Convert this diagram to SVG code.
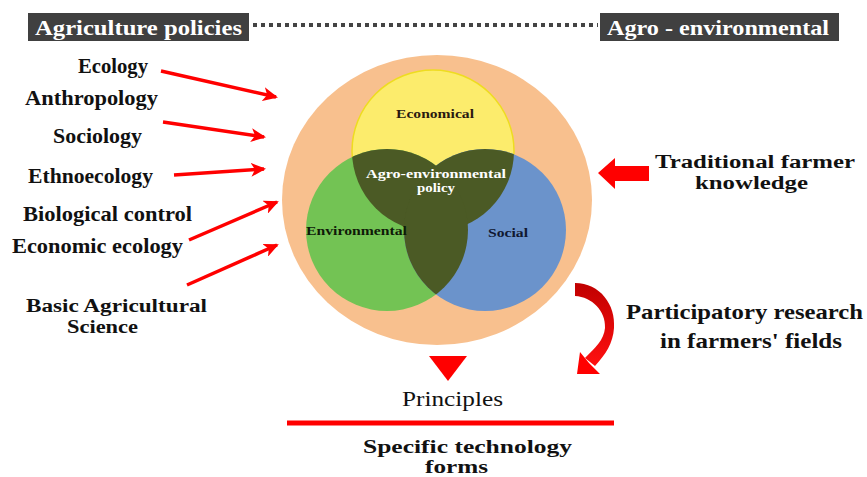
<svg xmlns="http://www.w3.org/2000/svg" width="867" height="477" viewBox="0 0 867 477">
<style>
.lbl{font-family:"Liberation Serif","Times New Roman",serif;font-weight:bold;fill:#111;}
.hdr{font-family:"Liberation Serif","Times New Roman",serif;font-weight:bold;fill:#fff;font-size:21px;}
.vn{font-family:"Liberation Serif","Times New Roman",serif;font-weight:bold;font-size:13px;}
.big{font-size:21px;}
.two{font-size:18px;}
.arr{stroke:#f00;stroke-width:3.5;fill:none;marker-end:url(#ah);}
.dark{fill:#4b5a25;}
</style>
<defs>
<marker id="ah" markerUnits="userSpaceOnUse" markerWidth="16" markerHeight="14" refX="13" refY="7" orient="auto">
<path d="M0,0 L15,7 L0,14 L4,7 Z" fill="#f00"/>
</marker>
<clipPath id="cY"><circle cx="433" cy="151" r="81"/></clipPath>
<clipPath id="cG"><circle cx="387" cy="230" r="81"/></clipPath>
<linearGradient id="cg" x1="0" y1="0" x2="0" y2="1">
<stop offset="0" stop-color="#c00000"/><stop offset="1" stop-color="#ff1010"/>
</linearGradient>
</defs>
<rect width="867" height="477" fill="#fff"/>

<g id="header-left">
<rect x="28" y="13" width="221" height="28" fill="#404040"/>
<text class="hdr" x="35" y="35" textLength="207" lengthAdjust="spacingAndGlyphs">Agriculture policies</text>
</g>
<g id="header-right">
<rect x="600" y="13" width="239" height="28" fill="#404040"/>
<text class="hdr" x="607" y="35" textLength="222" lengthAdjust="spacingAndGlyphs">Agro - environmental</text>
</g>

<g id="venn">
<ellipse cx="437" cy="200" rx="155" ry="145" fill="#f8c08e"/>
<circle cx="433" cy="151" r="81" fill="#fcec6c" stroke="#eedc20" stroke-width="1.5"/>
<circle cx="387" cy="230" r="81" fill="#73c354"/>
<circle cx="485" cy="230" r="81" fill="#6b93cb"/>
<g clip-path="url(#cY)"><circle class="dark" cx="387" cy="230" r="81"/><circle class="dark" cx="485" cy="230" r="81"/></g>
<g clip-path="url(#cG)"><circle class="dark" cx="485" cy="230" r="81"/></g>
<text class="vn" x="396" y="118" fill="#2a1a10" textLength="78" lengthAdjust="spacingAndGlyphs">Economical</text>
<text class="vn" x="366" y="178" fill="#fff" font-size="14" textLength="140" lengthAdjust="spacingAndGlyphs">Agro-environmental</text>
<text class="vn" x="417" y="192" fill="#fff" font-size="14" textLength="38" lengthAdjust="spacingAndGlyphs">policy</text>
<text class="vn" x="306" y="235" fill="#0f1a08" textLength="101" lengthAdjust="spacingAndGlyphs">Environmental</text>
<text class="vn" x="488" y="237" fill="#101830" textLength="40" lengthAdjust="spacingAndGlyphs">Social</text>
</g>

<g id="left-labels">
<text class="lbl big" x="78" y="73" textLength="70" lengthAdjust="spacingAndGlyphs">Ecology</text>
<text class="lbl big" x="25" y="105" textLength="133" lengthAdjust="spacingAndGlyphs">Anthropology</text>
<text class="lbl big" x="53" y="143" textLength="89" lengthAdjust="spacingAndGlyphs">Sociology</text>
<text class="lbl big" x="28" y="183" textLength="125" lengthAdjust="spacingAndGlyphs">Ethnoecology</text>
<text class="lbl big" x="23" y="221" textLength="169" lengthAdjust="spacingAndGlyphs">Biological control</text>
<text class="lbl big" x="12" y="253" textLength="171" lengthAdjust="spacingAndGlyphs">Economic ecology</text>
<text class="lbl two" x="26" y="312" textLength="181" lengthAdjust="spacingAndGlyphs">Basic Agricultural</text>
<text class="lbl two" x="67" y="333" textLength="71" lengthAdjust="spacingAndGlyphs">Science</text>
</g>

<g id="traditional">
<polygon points="598,173 615,158 615,166 649,166 649,181 615,181 615,189" fill="#f00"/>
<text class="lbl two" x="655" y="168" textLength="200" lengthAdjust="spacingAndGlyphs">Traditional farmer</text>
<text class="lbl two" x="695" y="189" textLength="113" lengthAdjust="spacingAndGlyphs">knowledge</text>
</g>

<g id="participatory">
<text class="lbl big" x="626" y="319" textLength="237" lengthAdjust="spacingAndGlyphs">Participatory research</text>
<text class="lbl big" x="660" y="348" textLength="182" lengthAdjust="spacingAndGlyphs">in farmers' fields</text>
</g>

<g id="principles">
<polygon points="429,356 467,356 448,381" fill="#f00"/>
<text x="402" y="406" font-family="Liberation Serif, Times New Roman, serif" font-size="22" fill="#111" textLength="101" lengthAdjust="spacingAndGlyphs">Principles</text>
<line x1="287" y1="423" x2="614" y2="423" stroke="#f00" stroke-width="5"/>
</g>

<g id="specific">
<text class="lbl two" x="363" y="453" textLength="209" lengthAdjust="spacingAndGlyphs">Specific technology</text>
<text class="lbl two" x="425" y="473" textLength="63" lengthAdjust="spacingAndGlyphs">forms</text>
</g>

<g id="connectors">
<line x1="253" y1="25" x2="598" y2="25" stroke="#444" stroke-width="4" stroke-dasharray="4 4"/>
<line class="arr" x1="161" y1="71" x2="276" y2="97"/>
<line class="arr" x1="163" y1="122" x2="264" y2="137"/>
<line class="arr" x1="174" y1="175" x2="264" y2="169"/>
<line class="arr" x1="189" y1="240" x2="277" y2="202"/>
<line class="arr" x1="187" y1="285" x2="277" y2="245"/>
<path d="M575,283 C600,283 616,305 614,328 C613,343 606,354 595,366 L585,358 C595,348 604,340 605,328 C606,311 592,297 575,296 Z" fill="url(#cg)"/>
<polygon points="577,374 580,352 589,363 600,374" fill="#f00"/>
</g>
</svg>
